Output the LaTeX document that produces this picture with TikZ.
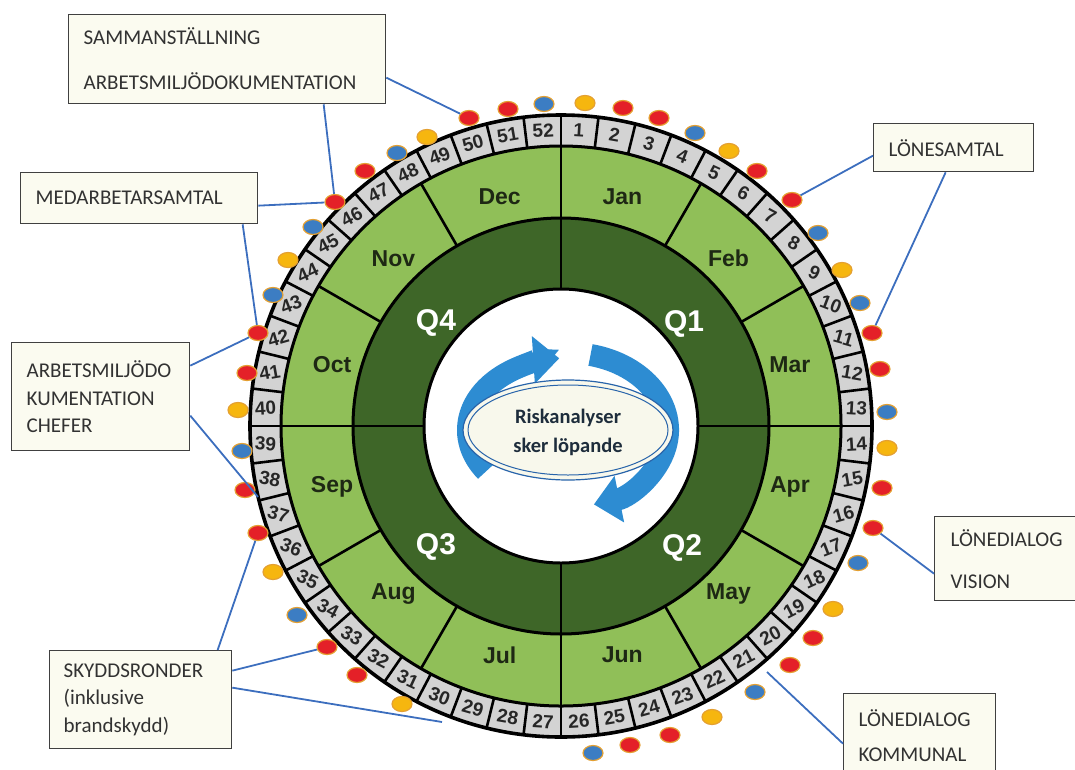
\documentclass[tikz,border=0pt]{standalone}
\usepackage{fontspec}
\setmainfont{Carlito}
\newfontfamily\arialfont{Liberation Sans}
\usetikzlibrary{arrows.meta,calc,shapes.geometric}
\definecolor{lightg}{RGB}{144,191,88}
\definecolor{darkg}{RGB}{62,102,40}
\definecolor{cellgray}{RGB}{211,211,211}
\definecolor{linkblue}{RGB}{60,110,190}
\definecolor{dotred}{RGB}{228,32,40}
\definecolor{dotblue}{RGB}{60,125,195}
\definecolor{dotyellow}{RGB}{246,182,15}
\definecolor{dotrim}{RGB}{228,160,50}
\definecolor{boxfill}{RGB}{251,251,240}
\definecolor{boxtext}{RGB}{50,50,50}
\definecolor{arrowblue}{RGB}{45,140,210}
\definecolor{ellfill}{RGB}{248,248,236}
\definecolor{ellline}{RGB}{40,100,170}
\definecolor{monthtext}{RGB}{30,40,20}
\definecolor{risktext}{RGB}{30,45,60}
\begin{document}
\begin{tikzpicture}[x=1pt,y=-1pt,
  box/.style={draw=black!75, line width=1.3pt, fill=boxfill, anchor=north west,
    inner ysep=0pt, text=boxtext, font=\fontsize{21}{27.5}\selectfont, align=left},
  link/.style={draw=linkblue, line width=1.8pt},
  dot/.style={ellipse, minimum width=20pt, minimum height=15pt, inner sep=0pt,
    draw=dotrim, line width=1.2pt},
  ringline/.style={line width=2.6pt, draw=black},
  weeknum/.style={font=\arialfont\bfseries\fontsize{19}{19}\selectfont, text=black!85, inner sep=0pt},
  monthlbl/.style={font=\arialfont\bfseries\fontsize{23}{23}\selectfont, text=monthtext, inner sep=0pt},
  qlbl/.style={font=\arialfont\bfseries\fontsize{30}{30}\selectfont, text=white, inner sep=0pt},
  band/.style={draw=arrowblue, line width=22pt, -{Triangle[length=26pt,width=46pt]}}
]
\useasboundingbox (0,0) rectangle (1075,769);
\clip (0,0) rectangle (1075,769);

% ---------- wheel ----------
\begin{scope}[shift={(561,426)}, y=1pt]
  \fill[cellgray] (0,0) circle[radius=311];
  \fill[lightg] (0,0) circle[radius=280];
  \fill[darkg] (0,0) circle[radius=208];
  \fill[white] (0,0) circle[radius=137];
  \foreach \k in {0,...,51}
    \draw[ringline] ({90-\k*6.9230769}:280) -- ({90-\k*6.9230769}:311);
  \foreach \k in {0,...,11}
    \draw[ringline] ({90-\k*30}:208) -- ({90-\k*30}:280);
  \foreach \k in {0,...,3}
    \draw[ringline] ({\k*90}:137) -- ({\k*90}:208);
  \draw[line width=3pt] (0,0) circle[radius=137];
  \draw[line width=3pt] (0,0) circle[radius=208];
  \draw[line width=3pt] (0,0) circle[radius=280];
  \draw[line width=3.6pt] (0,0) circle[radius=311];
  \foreach \w in {1,...,52}{
    \pgfmathsetmacro{\ang}{90-(\w-0.5)*6.9230769}
    \pgfmathsetmacro{\rot}{-28*sin(2*\ang)}
    \node[weeknum, rotate=\rot] (w\w) at (\ang:296) {\w};
  }
  \foreach \m [count=\k from 0] in {Jan,Feb,Mar,Apr,May,Jun,Jul,Aug,Sep,Oct,Nov,Dec}
    \node[monthlbl] (m\k) at ({75-30*\k}:237) {\m};
\end{scope}

% ---------- centre arrows and ellipse ----------
\begin{scope}[shift={(568,430)}, y=1pt]
  \draw[band] (215:100 and 72) arc[start angle=215, end angle=95, x radius=100, y radius=72];
  \draw[band] (77:100 and 77) arc[start angle=77, end angle=-75, x radius=100, y radius=77];
  \node[ellipse, draw=ellline, line width=1.2pt, fill=ellfill, minimum width=210pt,
        minimum height=100pt, inner sep=0pt] (ell) at (0,0) {};
  \draw[ellline, line width=1pt] (ell.center) ellipse[x radius=100, y radius=45];
  \node[font=\bfseries\fontsize{20.5}{29}\selectfont, text=risktext,
        align=center] (risk) at (0,-2.5) {Riskanalyser\\sker löpande};
\end{scope}

% ---------- quarter labels ----------
\node[qlbl] (q1) at (684,324) {Q1};
\node[qlbl] (q2) at (682,548) {Q2};
\node[qlbl] (q3) at (436,547) {Q3};
\node[qlbl] (q4) at (436,323) {Q4};

% ---------- dots ----------
\foreach \x/\y/\c [count=\i] in {
  585/103/dotyellow, 623/108/dotred, 659/118/dotred, 695/133/dotblue,
  729/151/dotyellow, 757/171/dotred, 792/200/dotred, 818/233/dotblue,
  842/270/dotyellow, 860/303/dotblue, 872/333/dotred, 880/369/dotred,
  887/412/dotblue, 887/448/dotyellow, 882/488/dotred, 873/528/dotred,
  858/563/dotblue, 833/609/dotyellow, 813/638/dotred, 790/665/dotred,
  755/692/dotblue, 712/717/dotyellow, 670/735/dotred, 630/745/dotred,
  593/753/dotblue, 402/704/dotyellow, 357/675/dotred, 327/647/dotred,
  297/615/dotblue, 273/572/dotyellow, 258/533/dotred, 245/490/dotred,
  242/451/dotblue, 238/410/dotyellow, 247/373/dotred, 258/333/dotred,
  273/295/dotblue, 288/260/dotyellow, 313/227/dotblue, 335/202/dotred,
  365/171/dotred, 397/153/dotblue, 427/137/dotyellow, 469/118/dotred,
  508/109/dotred, 544/104/dotblue}
  \node[dot, fill=\c] (d\i) at (\x,\y) {};

% ---------- boxes ----------
\node[box, minimum width=317pt, minimum height=89pt, inner xsep=15pt, text width=287pt]
  (samm) at (68,14) {SAMMANSTÄLLNING\\[17.5pt]ARBETSMILJÖDOKUMENTATION};
\node[box, minimum width=237pt, minimum height=51pt, inner xsep=15pt, text width=207pt]
  (medar) at (20,172) {MEDARBETARSAMTAL};
\node[box, minimum width=178pt, minimum height=108pt, inner xsep=15pt, text width=148pt]
  (arb) at (11,342) {ARBETSMILJÖDO\\KUMENTATION\\CHEFER};
\node[box, minimum width=182pt, minimum height=98pt, inner xsep=14pt, text width=154pt]
  (skydd) at (49,650) {SKYDDSRONDER\\(inklusive\\brandskydd)};
\node[box, minimum width=160pt, minimum height=48pt, inner xsep=15pt, text width=130pt]
  (lonesamtal) at (873,123) {LÖNESAMTAL};
\node[box, minimum width=170pt, minimum height=84pt, inner xsep=16pt, text width=138pt]
  (vision) at (934,516) {LÖNEDIALOG\\[14.5pt]VISION};
\node[box, minimum width=152pt, minimum height=84pt, inner xsep=15pt, text width=122pt]
  (kommunal) at (843,693) {LÖNEDIALOG\\[7pt]KOMMUNAL};

% ---------- connectors ----------
\coordinate (arbend) at (258,497);
\coordinate (skyddend) at (442,722);
\coordinate (kommend) at (767,672);
\draw[link] ([yshift=-18.5pt]samm.east) -- (d44);
\draw[link] ([xshift=96.5pt]samm.south) -- (d40);
\draw[link] ([yshift=-7.5pt]medar.east) -- (d40);
\draw[link] ([xshift=103.5pt]medar.south) -- (d36);
\draw[link] ([yshift=31pt]arb.east) -- (d36);
\draw[link] ([yshift=-19pt]arb.east) -- (arbend);
\draw[link] ([xshift=77pt]skydd.north) -- (d31);
\draw[link] ([yshift=29pt]skydd.east) -- (d28);
\draw[link] ([yshift=12pt]skydd.east) -- (skyddend);
\draw[link] ([yshift=-8pt]lonesamtal.west) -- (d7);
\draw[link] ([xshift=-8pt]lonesamtal.south) -- (d11);
\draw[link] ([yshift=-15pt]vision.west) -- (d16);
\draw[link] ([yshift=-8pt]kommunal.west) -- (kommend);
\end{tikzpicture}
\end{document}
